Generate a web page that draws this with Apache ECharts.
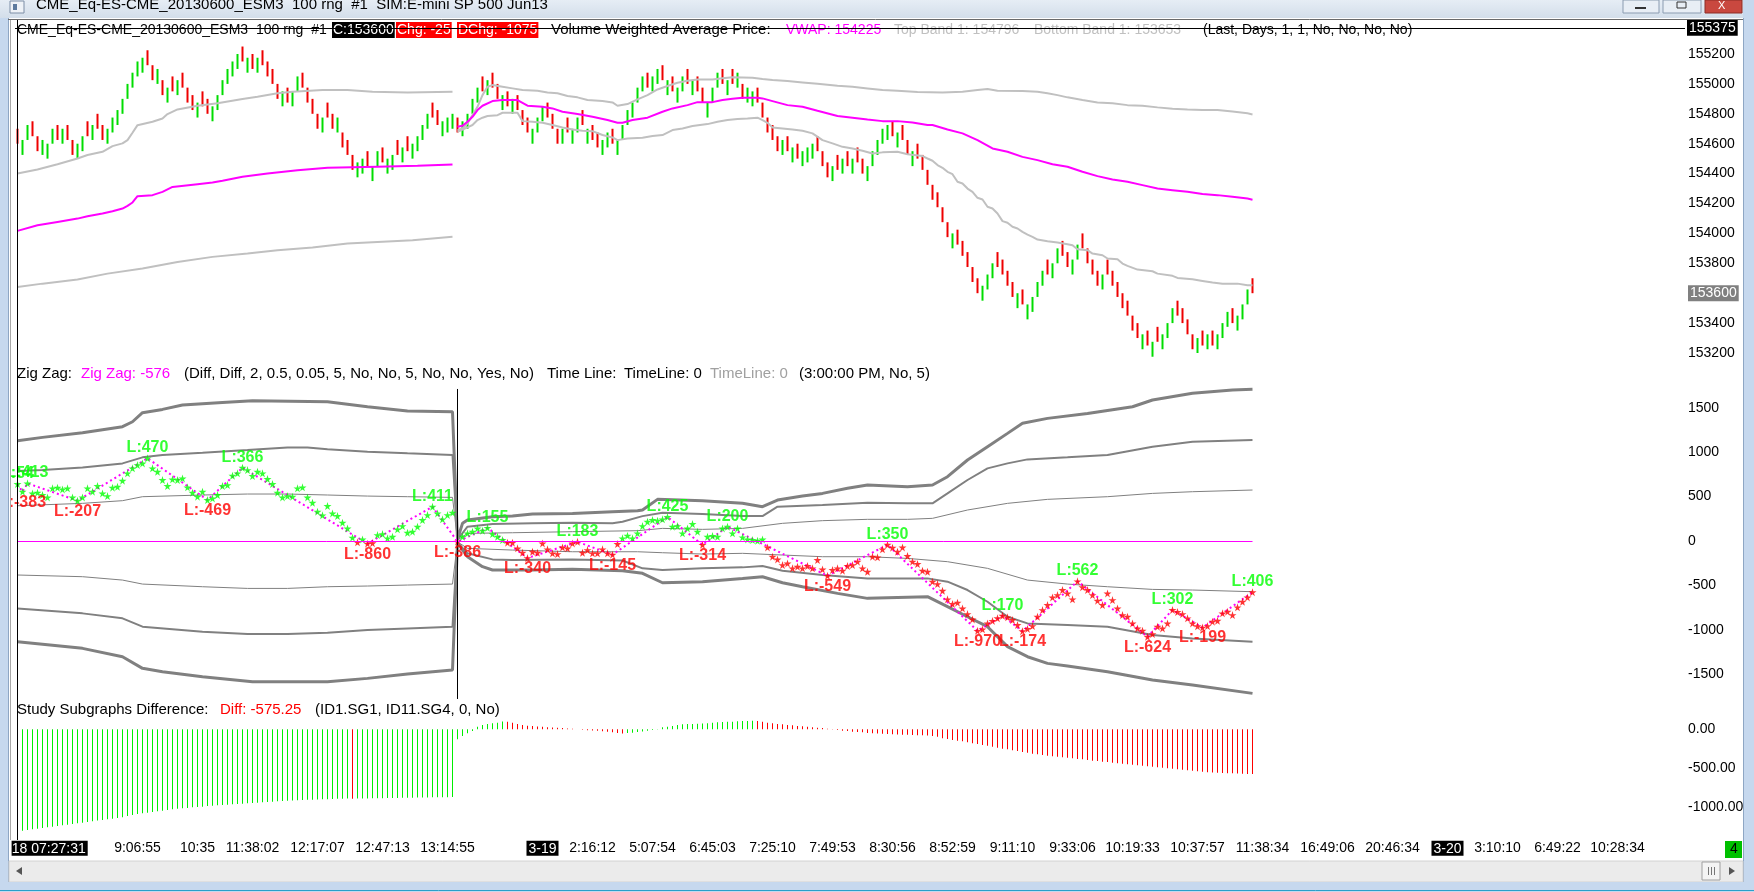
<!DOCTYPE html>
<html><head><meta charset="utf-8">
<script src="https://cdn.jsdelivr.net/npm/echarts@6/dist/echarts.min.js"></script>
<style>html,body{margin:0;padding:0;background:#fff;overflow:hidden}#c{width:1754px;height:892px}</style>
</head><body><div id="c"></div>
<script>
// ---------------- DATA ----------------
const barOpen = [
154700,154525,154625,154750,154650,154525,154500,154600,154725,154600,
154725,154625,154500,154550,154750,154625,154800,154725,154600,154675,
154725,154800,154900,154975,155050,155075,155225,155125,155000,155025,
154875,155050,154925,155075,154975,154925,154775,154950,154900,154750,
154825,154925,155000,155050,155100,155250,155075,155200,155075,155225,
155150,155100,155000,154850,154975,154850,154950,155075,154975,154900,
154800,154675,154875,154800,154675,154675,154625,154525,154375,154400,
154550,154350,154450,154575,154400,154425,154625,154475,154650,154500,
154550,154625,154700,154875,154825,154650,154675,154700,154775,154650,
154700,154800,154875,155050,154925,155075,155000,154825,154950,154800,
154925,154825,154775,154600,154675,154750,154875,154800,154700,154600,
154775,154600,154675,154825,154600,154725,154675,154525,154575,154700,
154525,154625,154725,154775,154875,154950,155075,154950,155000,155125,
154925,155050,154875,154950,155100,154925,155050,154975,154775,154875,
154975,155100,154925,155100,154975,155000,154875,154850,154975,154875,
154775,154725,154650,154525,154650,154475,154600,154450,154475,154500,
154650,154550,154475,154350,154525,154400,154550,154400,154575,154500,
154350,154450,154525,154600,154625,154750,154575,154725,154625,154450,
154600,154525,154425,154325,154275,154175,154075,153900,154025,153950,
153875,153775,153700,153550,153625,153700,153875,153825,153750,153675,
153500,153625,153425,153475,153575,153650,153825,153700,153800,153950,
153875,153725,153825,154000,153900,153825,153750,153625,153825,153750,
153675,153600,153550,153450,153400,153225,153350,153175,153375,153225,
153300,153400,153550,153500,153425,153325,153200,153350,153225,153350,
153225,153300,153375,153500,153350,153425,153525,153700];
const barClose = [
154600,154625,154725,154650,154550,154625,154600,154700,154625,154700,
154625,154525,154600,154650,154650,154725,154700,154625,154700,154775,
154825,154900,155000,155075,155150,155175,155125,155025,155100,154925,
154975,154950,155025,154975,154875,154825,154875,154850,154800,154850,
154925,155025,155100,155150,155200,155150,155175,155100,155175,155125,
155050,155000,154900,154950,154875,154950,155050,154975,154875,154800,
154700,154775,154775,154700,154775,154575,154525,154425,154475,154500,
154450,154450,154550,154475,154500,154525,154525,154575,154550,154600,
154650,154725,154800,154775,154725,154750,154775,154800,154675,154750,
154800,154900,154975,154950,155025,154975,154900,154925,154850,154900,
154825,154725,154675,154700,154775,154850,154775,154700,154600,154700,
154675,154700,154775,154725,154700,154625,154575,154625,154675,154600,
154625,154725,154825,154875,154975,155050,154975,155050,155100,155025,
155025,154950,154975,155050,155000,155025,154950,154875,154875,154975,
155075,155000,155025,155000,155075,154900,154975,154950,154875,154775,
154675,154625,154550,154625,154550,154575,154500,154550,154575,154600,
154550,154450,154375,154450,154425,154500,154450,154500,154475,154400,
154450,154550,154625,154700,154725,154650,154675,154625,154525,154550,
154500,154425,154325,154225,154175,154075,153975,154000,153925,153850,
153775,153675,153600,153650,153725,153800,153775,153725,153650,153575,
153600,153525,153525,153575,153675,153750,153725,153800,153900,153850,
153775,153825,153925,153900,153800,153725,153650,153725,153725,153650,
153575,153500,153450,153350,153300,153325,153250,153275,153275,153325,
153400,153500,153450,153400,153325,153225,153300,153250,153325,153250,
153325,153400,153475,153400,153450,153525,153625,153600];

const vwapS1 = [[0,154017],[4,154055],[8,154077],[12,154099],[14,154115],[17,154133],[19,154148],[21,154166],[22,154184],[23,154207],[24,154249],[27,154256],[29,154278],[31,154311],[36,154329],[39,154340],[41,154352],[45,154379],[50,154401],[56,154423],[62,154439],[72,154446],[80,154452],[87,154461]];
const vwapS2 = [[88,154713],[89,154720],[90,154747],[91,154780],[92,154825],[93,154854],[95,154885],[97,154892],[100,154892],[102,154854],[105,154847],[107,154836],[109,154814],[112,154798],[115,154780],[118,154758],[120,154740],[121,154740],[123,154758],[126,154774],[129,154814],[131,154836],[134,154858],[136,154878],[139,154878],[141,154892],[143,154901],[145,154908],[148,154908],[149,154903],[151,154885],[154,154858],[157,154847],[160,154820],[164,154785],[167,154774],[170,154762],[173,154751],[176,154751],[179,154742],[182,154725],[183,154725],[186,154695],[189,154669],[192,154624],[195,154568],[198,154546],[201,154512],[204,154490],[207,154463],[210,154446],[213,154412],[216,154383],[219,154361],[222,154345],[225,154323],[228,154300],[231,154289],[234,154278],[237,154263],[240,154256],[243,154245],[246,154233],[247,154225]];
const topBandS1 = [[0,154401],[4,154428],[8,154463],[12,154501],[14,154524],[17,154546],[19,154584],[21,154602],[22,154624],[23,154673],[24,154724],[27,154747],[29,154769],[30,154798],[32,154829],[36,154854],[40,154870],[45,154899],[48,154914],[52,154937],[55,154948],[61,154959],[66,154959],[71,154948],[78,154943],[87,154948]];
const topBandS2 = [[88,154691],[89,154702],[90,154736],[91,154792],[92,154847],[93,154925],[94,154981],[95,154992],[97,154981],[99,154970],[101,154959],[104,154954],[106,154943],[108,154937],[110,154919],[112,154910],[114,154892],[117,154885],[119,154876],[120,154854],[122,154865],[124,154896],[126,154925],[128,154963],[130,154986],[132,155008],[134,155021],[136,155030],[139,155030],[141,155037],[143,155044],[147,155041],[149,155033],[151,155026],[154,155019],[157,155010],[160,155001],[164,154988],[167,154981],[170,154970],[173,154959],[176,154954],[180,154945],[185,154943],[189,154948],[192,154959],[194,154966],[196,154954],[201,154952],[204,154948],[206,154937],[208,154925],[210,154910],[213,154892],[216,154876],[219,154870],[222,154858],[225,154854],[228,154843],[231,154834],[234,154829],[237,154825],[240,154825],[243,154816],[246,154803],[247,154796]];
const botBandS1 = [[0,153642],[5,153664],[12,153691],[18,153731],[25,153765],[32,153809],[39,153843],[46,153865],[52,153887],[59,153905],[66,153932],[72,153943],[79,153954],[87,153977]];
const botBandS2 = [[88,154680],[89,154695],[90,154709],[91,154725],[92,154758],[93,154774],[94,154785],[96,154791],[97,154807],[100,154807],[101,154751],[103,154747],[105,154740],[107,154725],[109,154709],[111,154695],[113,154687],[115,154684],[117,154658],[119,154642],[120,154624],[122,154635],[125,154640],[127,154651],[129,154658],[131,154691],[133,154702],[135,154718],[138,154731],[140,154747],[142,154758],[144,154765],[146,154769],[148,154774],[149,154758],[150,154740],[151,154709],[153,154702],[155,154695],[157,154687],[159,154669],[161,154624],[163,154602],[165,154579],[167,154568],[169,154553],[171,154535],[173,154542],[176,154546],[178,154530],[181,154517],[182,154501],[183,154486],[184,154457],[185,154439],[186,154412],[187,154396],[188,154345],[189,154334],[190,154300],[191,154278],[192,154238],[193,154227],[194,154178],[195,154167],[196,154133],[197,154082],[198,154071],[199,154044],[200,154033],[201,154010],[202,153992],[203,153977],[204,153959],[206,153948],[208,153939],[210,153928],[211,153921],[212,153894],[214,153888],[215,153865],[217,153854],[218,153832],[220,153827],[221,153798],[222,153783],[224,153758],[227,153747],[228,153731],[231,153716],[232,153702],[235,153693],[237,153682],[239,153671],[241,153664],[244,153664],[246,153653],[247,153653]];

const zzTop3 = [[0,1130],[5,1167],[13,1220],[21,1287],[23,1343],[25,1445],[29,1482],[33,1531],[41,1561],[47,1580],[62,1569],[70,1512],[78,1464],[87,1456],[88,20],[89,199],[90,236],[95,274],[99,281],[103,304],[111,311],[119,330],[124,341],[125,349],[128,469],[137,454],[145,424],[149,386],[152,461],[157,506],[161,536],[166,593],[170,630],[178,611],[183,630],[186,724],[190,912],[194,1062],[198,1212],[201,1325],[206,1381],[214,1437],[223,1512],[227,1588],[235,1663],[243,1700],[247,1708]];
const zzTop2 = [[0,788],[5,799],[13,829],[21,874],[25,942],[29,968],[37,994],[46,1024],[54,1054],[58,1054],[62,1032],[70,1006],[78,987],[87,968],[88,15],[90,161],[95,191],[103,199],[111,206],[119,199],[121,217],[125,280],[129,319],[137,304],[145,281],[149,281],[152,386],[161,405],[170,431],[178,424],[183,424],[186,536],[190,687],[194,818],[198,874],[202,919],[210,942],[218,968],[227,1062],[235,1118],[247,1137]];
const zzTop1 = [[0,397],[13,424],[21,454],[25,499],[37,518],[46,529],[54,529],[62,518],[70,506],[78,499],[87,491],[88,10],[90,86],[99,93],[111,105],[124,116],[129,142],[137,131],[145,142],[153,199],[161,229],[170,244],[178,244],[183,255],[190,349],[198,424],[206,469],[218,499],[227,536],[235,555],[247,574]];
const zzBot1 = [[0,-383],[13,-402],[21,-440],[25,-485],[37,-515],[46,-534],[54,-534],[62,-515],[70,-507],[78,-496],[87,-485],[88,-10],[90,-83],[99,-102],[111,-121],[124,-121],[129,-132],[137,-147],[145,-139],[153,-158],[161,-177],[170,-177],[178,-196],[186,-233],[194,-308],[202,-440],[210,-485],[218,-515],[227,-545],[235,-552],[247,-571]];
const zzBot2 = [[0,-759],[13,-815],[21,-871],[25,-965],[37,-1021],[46,-1048],[54,-1048],[62,-1033],[70,-1003],[78,-984],[87,-965],[88,-15],[90,-139],[95,-207],[99,-214],[111,-207],[121,-220],[125,-308],[129,-327],[137,-308],[145,-297],[149,-282],[153,-334],[161,-383],[170,-421],[182,-421],[186,-458],[190,-552],[194,-684],[198,-853],[202,-928],[210,-946],[218,-965],[227,-1059],[235,-1097],[247,-1134]];
const zzBot3 = [[0,-1134],[13,-1209],[21,-1303],[25,-1434],[29,-1472],[37,-1528],[47,-1585],[62,-1585],[70,-1547],[78,-1498],[87,-1453],[88,-20],[90,-177],[93,-289],[95,-327],[103,-327],[111,-319],[121,-334],[125,-364],[129,-470],[137,-458],[145,-421],[149,-402],[153,-470],[157,-515],[164,-590],[170,-646],[182,-627],[186,-740],[190,-853],[194,-965],[198,-1190],[202,-1303],[206,-1378],[210,-1408],[218,-1472],[227,-1566],[235,-1622],[247,-1716]];

const zzStars = [
642,555,649,536,544,518,491,593,600,581,
593,491,454,491,593,555,619,536,506,600,
611,679,762,818,855,874,931,818,780,687,
619,694,687,705,604,544,499,555,462,480,
518,619,630,735,762,825,799,732,780,762,
698,642,544,491,506,499,593,604,491,431,
330,289,394,311,281,206,142,37,-15,18,
-30,-25,67,78,30,48,131,168,93,105,
161,236,292,386,311,244,292,319,-7,48,
86,105,142,116,148,78,48,11,-19,-19,
-83,-132,-192,-121,-132,-27,-94,-139,-147,-72,
-83,-27,-9,-132,-102,-139,-139,-94,-139,-154,
-34,30,60,30,86,168,217,236,229,244,
271,161,168,86,142,191,105,-43,48,56,
48,142,161,86,142,41,18,11,3,18,
-72,-177,-207,-271,-252,-308,-289,-308,-282,-308,
-214,-320,-392,-327,-308,-334,-282,-271,-233,-308,
-346,-177,-184,-94,-42,-75,-121,-72,-169,-233,
-259,-334,-346,-458,-485,-560,-657,-710,-695,-759,
-823,-883,-1012,-995,-928,-900,-870,-842,-860,-890,
-946,-1016,-990,-958,-853,-778,-721,-635,-609,-552,
-590,-657,-454,-520,-552,-609,-672,-721,-590,-665,
-759,-834,-853,-928,-984,-1010,-1078,-1048,-965,-984,
-928,-776,-800,-823,-871,-928,-960,-975,-958,-909,
-898,-815,-796,-834,-747,-684,-635,-576];

const zzPivots = [[0,642,'L:54'],[1,555,'L:-383'],[2,649,'L:413'],[12,454,'L:-207'],[26,931,'L:470'],[38,462,'L:-469'],[45,825,'L:366'],[70,-30,'L:-860'],[83,386,'L:411'],[88,-7,'L:-386'],[94,148,'L:155'],[102,-192,'L:-340'],[112,-9,'L:183'],[119,-154,'L:-145'],[130,271,'L:425'],[137,-43,'L:-314'],[142,161,'L:200'],[162,-392,'L:-549'],[174,-42,'L:350'],[192,-1012,'L:-970'],[197,-842,'L:170'],[201,-1016,'L:-174'],[212,-454,'L:562'],[226,-1078,'L:-624'],[231,-776,'L:302'],[237,-975,'L:-199'],[247,-576,'L:406']];

const diffVals = [
-1314,-1301,-1292,-1284,-1275,-1267,-1258,-1250,-1241,-1232,
-1224,-1215,-1207,-1198,-1190,-1181,-1172,-1164,-1155,-1147,
-1138,-1130,-1113,-1100,-1087,-1078,-1070,-1061,-1053,-1044,
-1036,-1027,-1019,-1014,-1010,-1001,-997,-993,-984,-980,
-976,-972,-967,-963,-959,-955,-950,-946,-942,-937,
-933,-929,-925,-921,-918,-915,-912,-909,-906,-903,
-901,-899,-897,-895,-893,-891,-889,-892,-890,-888,
-887,-886,-885,-884,-883,-882,-881,-880,-879,-878,
-877,-876,-875,-874,-873,-872,-871,-870,
-130,-87,-53,-23,30,54,67,75,84,99,
97,84,67,54,45,41,34,30,26,22,
18,14,10,6,-2,-8,-12,-16,-20,-26,
-32,-40,-48,-55,
-50,-44,-36,-28,-19,-10,3,24,32,41,
54,62,66,68,70,72,75,84,88,92,
94,97,101,104,106,109,
105,97,84,75,67,62,54,50,41,37,
32,24,20,15,7,2,-10,-19,-23,-32,
-36,-40,-49,-53,-55,-57,-62,-66,-68,-70,
-72,-75,-77,-79,-82,-87,-96,-117,-126,-138,
-147,-156,-168,-181,-190,-203,-211,-224,-237,-250,
-258,-271,-280,-292,-301,-314,-322,-331,-339,-348,
-352,-361,-365,-374,-382,-386,-395,-403,-408,-416,
-420,-429,-438,-442,-450,-455,-463,-467,-476,-480,
-489,-493,-502,-506,-515,-519,-527,-532,-540,-545,
-553,-556,-559,-562,-564,-566,-568,-570,-573,-575.25];

const timeLabelIdx = [5,24,36,47,60,73,86,105,115,127,139,151,163,175,187,199,211,223,236,249,262,275,286,296,308,320];
const timeLabelText = ['3-18 07:27:31','9:06:55','10:35','11:38:02','12:17:07','12:47:13','13:14:55','3-19','2:16:12','5:07:54','6:45:03','7:25:10','7:49:53','8:30:56','8:52:59','9:11:10','9:33:06','10:19:33','10:37:57','11:38:34','16:49:06','20:46:34','3-20','3:10:10','6:49:22','10:28:34'];

const priceLine = 155375;
const lastPrice = 153600;
const sessionBreak = 88;

// ---------------- CHART ----------------
const FONT = '"Liberation Sans", Arial, sans-serif';
const N = 334;
const cats = new Array(N).fill('');
timeLabelIdx.forEach((k, j) => { cats[k] = timeLabelText[j]; });

const candleData = barOpen.map((o, i) => [o, barClose[i], Math.min(o, barClose[i]), Math.max(o, barClose[i])]);

const GL = 15, GW = 1670;
const grids = [
  {left: GL, width: GW, top: 24.1, height: 358.8, containLabel: false, outerBoundsMode: 'none'},
  {left: GL, width: GW, top: 363.4, height: 355.2, containLabel: false, outerBoundsMode: 'none'},
  {left: GL, width: GW, top: 713.6, height: 132.6, containLabel: false, outerBoundsMode: 'none'}
];
const noAx = {axisLine: {show: false}, axisTick: {show: false}, splitLine: {show: false}};
const xAxes = [0, 1, 2].map(gi => Object.assign({
  type: 'category', gridIndex: gi, data: cats, boundaryGap: true,
  axisLabel: gi < 2 ? {show: false} : {
    interval: 0, margin: -6, fontFamily: FONT, fontSize: 14, color: '#000', lineHeight: 16,
    formatter: v => v ? (v.indexOf('-') >= 0 ? '{d|' + v + '}' : v) : '',
    rich: {d: {backgroundColor: '#000', color: '#fff', padding: [1, 2, 0, 2], fontFamily: FONT, fontSize: 14, lineHeight: 16}}
  }
}, noAx));
const yLab = {margin: 3, showMinLabel: false, showMaxLabel: false, fontFamily: FONT, fontSize: 14, color: '#000'};
const yAxes = [
  Object.assign({type: 'value', gridIndex: 0, position: 'right', min: 153000, max: 155400, interval: 200,
    axisLabel: Object.assign({}, yLab, {
      formatter: v => v === lastPrice ? '{hl|' + v + '}' : String(v),
      rich: {hl: {backgroundColor: '#808080', color: '#fff', padding: [1, 2], fontFamily: FONT, fontSize: 14}}
    })}, noAx),
  Object.assign({type: 'value', gridIndex: 1, position: 'right', min: -2000, max: 2000, interval: 500,
    axisLabel: Object.assign({}, yLab, {formatter: v => String(v)})}, noAx),
  Object.assign({type: 'value', gridIndex: 2, position: 'right', min: -1500, max: 200, interval: 500,
    axisLabel: Object.assign({}, yLab, {formatter: v => v.toFixed(2)})}, noAx)
];

const ln = (data, gi, color, width, z) => ({
  type: 'line', xAxisIndex: gi, yAxisIndex: gi, data, symbol: 'none', silent: true,
  lineStyle: {color, width}, z
});
const STAR = 'path://M50,0 L61,35 98,35 68,57 79,91 50,70 21,91 32,57 2,35 39,35 Z';

const series = [
  {type: 'candlestick', xAxisIndex: 0, yAxisIndex: 0, data: candleData, barWidth: 3, silent: true, z: 3,
    itemStyle: {color: '#00dd00', color0: '#ee0000', borderColor: '#00dd00', borderColor0: '#ee0000', borderWidth: 0},
    markLine: {silent: true, symbol: ['none', 'none'], animation: false,
      data: [{yAxis: priceLine}],
      lineStyle: {color: '#000', width: 1, type: 'solid'},
      label: {position: 'end', distance: 2, formatter: String(priceLine), backgroundColor: '#000', color: '#fff',
        padding: [1, 2], fontFamily: FONT, fontSize: 14}}},
  ln(topBandS1, 0, '#c0c0c0', 2, 4), ln(topBandS2, 0, '#c0c0c0', 2, 4),
  ln(botBandS1, 0, '#c0c0c0', 2, 4), ln(botBandS2, 0, '#c0c0c0', 2, 4),
  ln(vwapS1, 0, '#ff00ff', 2, 4), ln(vwapS2, 0, '#ff00ff', 2, 4),
  ln(zzTop3, 1, '#808080', 3, 2), ln(zzTop2, 1, '#808080', 2, 2), ln(zzTop1, 1, '#808080', 1, 2),
  ln(zzBot1, 1, '#808080', 1, 2), ln(zzBot2, 1, '#808080', 2, 2), ln(zzBot3, 1, '#808080', 3, 2),
  {type: 'line', xAxisIndex: 1, yAxisIndex: 1, data: zzPivots.map(p => [p[0], p[1]]), symbol: 'none', silent: true, z: 3,
    lineStyle: {color: '#ff00ff', width: 2, type: [2, 3]},
    markLine: {silent: true, symbol: ['none', 'none'], label: {show: false}, animation: false,
      data: [
        [{coord: [0, 0], lineStyle: {color: '#ff00ff', width: 1, type: 'solid'}}, {coord: [barOpen.length - 1, 0]}],
        [{coord: [sessionBreak, 1712], lineStyle: {color: '#000', width: 1, type: 'solid'}}, {coord: [sessionBreak, -1779]}]
      ]}},
  {type: 'scatter', xAxisIndex: 1, yAxisIndex: 1, data: zzStars.map((v, i) => [i, v]), symbol: STAR, symbolSize: 8, silent: true, z: 4,
    itemStyle: {color: p => p.value[1] < 0 ? '#ff0000' : '#00ff00'}},
  {type: 'scatter', xAxisIndex: 1, yAxisIndex: 1, silent: true, z: 6, symbolSize: 1,
    itemStyle: {color: 'rgba(0,0,0,0)'},
    data: zzPivots.map(p => {
      const neg = p[2].indexOf('L:-') === 0;
      return {value: [p[0], p[1]], label: {position: neg ? 'bottom' : 'top', color: neg ? '#ff0000' : '#00ff00'}};
    }),
    label: {show: true, distance: 2, fontFamily: FONT, fontSize: 16, fontWeight: 'bold', formatter: p => zzPivots[p.dataIndex][2]},
    labelLayout: {hideOverlap: false}},
  {type: 'bar', xAxisIndex: 2, yAxisIndex: 2, data: diffVals, barWidth: 1, silent: true,
    itemStyle: {color: p => (p.dataIndex === 0 || diffVals[p.dataIndex] >= diffVals[p.dataIndex - 1]) ? '#00ee00' : '#ff0000'}}
];

// ---------------- WINDOW CHROME / TEXT ----------------
const txt = (x, y, text, fill, size, bg, z) => ({type: 'text', x, y, z: z || 1, silent: true,
  style: Object.assign({text, fill, font: (size || 14) + 'px ' + FONT, verticalAlign: 'middle'},
    bg ? {backgroundColor: bg, padding: [1, 1]} : {})});
const rect = (x, y, w, h, fill, z, stroke) => ({type: 'rect', z: z || 100, silent: true, shape: {x, y, width: w, height: h},
  style: Object.assign({fill}, stroke ? {stroke, lineWidth: 1} : {})});
const line = (x1, y1, x2, y2, stroke, z) => ({type: 'line', z: z || 100, silent: true, shape: {x1, y1, x2, y2}, style: {stroke, lineWidth: 1}});

const graphics = [
  // header of price pane
  txt(17, 30, 'CME_Eq-ES-CME_20130600_ESM3  100 rng  #1', '#000'),
  txt(332, 30, 'C:153600', '#fff', 14, '#000'),
  txt(396, 30, 'Chg: -25', '#fff', 14, '#ff0000'),
  txt(457, 30, 'DChg: -1075', '#fff', 14, '#ff0000'),
  txt(551, 30, 'Volume Weighted Average Price:', '#000', 15),
  txt(786, 30, 'VWAP: 154225', '#ff00ff'),
  txt(894, 30, 'Top Band 1: 154796', '#c0c0c0'),
  txt(1034, 30, 'Bottom Band 1: 153653', '#c0c0c0'),
  txt(1203, 30, '(Last, Days, 1, 1, No, No, No, No)', '#000'),
  // zig zag pane title
  txt(17, 374, 'Zig Zag:', '#000', 15),
  txt(81, 374, 'Zig Zag: -576', '#ff00ff', 15),
  txt(184, 374, '(Diff, Diff, 2, 0.5, 0.05, 5, No, No, 5, No, No, Yes, No)', '#000', 15),
  txt(547, 374, 'Time Line:', '#000', 15),
  txt(624, 374, 'TimeLine: 0', '#000', 15),
  txt(710, 374, 'TimeLine: 0', '#a0a0a0', 15),
  txt(799, 374, '(3:00:00 PM, No, 5)', '#000', 15),
  // difference pane title
  txt(17, 710, 'Study Subgraphs Difference:', '#000', 15),
  txt(220, 710, 'Diff: -575.25', '#ff0000', 15),
  txt(315, 710, '(ID1.SG1, ID11.SG4, 0, No)', '#000', 15),
  // window title bar
  {type: 'rect', z: 100, silent: true, shape: {x: 0, y: 0, width: 1754, height: 18},
    style: {fill: {type: 'linear', x: 0, y: 0, x2: 0, y2: 1, colorStops: [{offset: 0, color: '#e6edf5'}, {offset: 1, color: '#d3deea'}]}}},
  rect(10, 1, 14, 12, '#eef2f7', 101, '#7d8ea6'),
  rect(13, 4, 4, 6, '#5d7a9e', 102),
  txt(36, 5, 'CME_Eq-ES-CME_20130600_ESM3  100 rng  #1  SIM:E-mini SP 500 Jun13', '#000', 15, null, 101),
  rect(1623, 0, 36, 13, '#e8eef5', 101, '#8a9bb0'),
  rect(1635, 7, 11, 2, '#333', 102),
  rect(1663, 0, 38, 13, '#e8eef5', 101, '#8a9bb0'),
  rect(1677, 2, 9, 6, 'rgba(0,0,0,0)', 102, '#333'),
  rect(1705, 0, 37, 13, '#c9483f', 101, '#8b2d27'),
  txt(1718, 6, 'X', '#fff', 11, null, 102),
  // frames
  rect(0, 18, 8, 874, '#c6d8ee'),
  line(8.5, 18, 8.5, 882, '#8ea6c4'),
  rect(9, 18, 2, 843, '#ffffff'),
  rect(9, 840, 2.6, 21, '#ffffff'),
  line(10.5, 19, 10.5, 840, '#a8a8a8'),
  rect(1743, 0, 11, 892, '#c6d8ee'),
  line(1743.5, 18, 1743.5, 882, '#8ea6c4'),
  line(8, 19.5, 1743, 19.5, '#6a6a6a'),
  line(17.5, 20, 17.5, 840, '#000', 50),
  // scroll bar & bottom frame
  rect(9, 861, 1734, 21, '#ebebeb', 100, '#d2d2d2'),
  {type: 'polygon', z: 101, silent: true, shape: {points: [[16, 871], [22, 867], [22, 875]]}, style: {fill: '#555'}},
  {type: 'polygon', z: 101, silent: true, shape: {points: [[1729, 867], [1735, 871], [1729, 875]]}, style: {fill: '#555'}},
  rect(1702, 862, 18, 18, '#f4f4f4', 101, '#a0a0a0'),
  line(1708.5, 867, 1708.5, 875, '#777', 102), line(1711.5, 867, 1711.5, 875, '#777', 102), line(1714.5, 867, 1714.5, 875, '#777', 102),
  rect(0, 882, 1754, 10, '#c6d8ee'),
  line(0, 890.5, 1754, 890.5, '#2a9fc9'),
  // green counter box
  rect(1725, 841, 17, 17, '#00c000', 101),
  txt(1730, 849.5, '4', '#000', 14, null, 102)
];

const chart = echarts.init(document.getElementById('c'), null, {renderer: 'canvas'});
chart.setOption({
  animation: false,
  backgroundColor: '#ffffff',
  grid: grids,
  xAxis: xAxes,
  yAxis: yAxes,
  series,
  graphic: graphics
});
</script>
</body></html>
